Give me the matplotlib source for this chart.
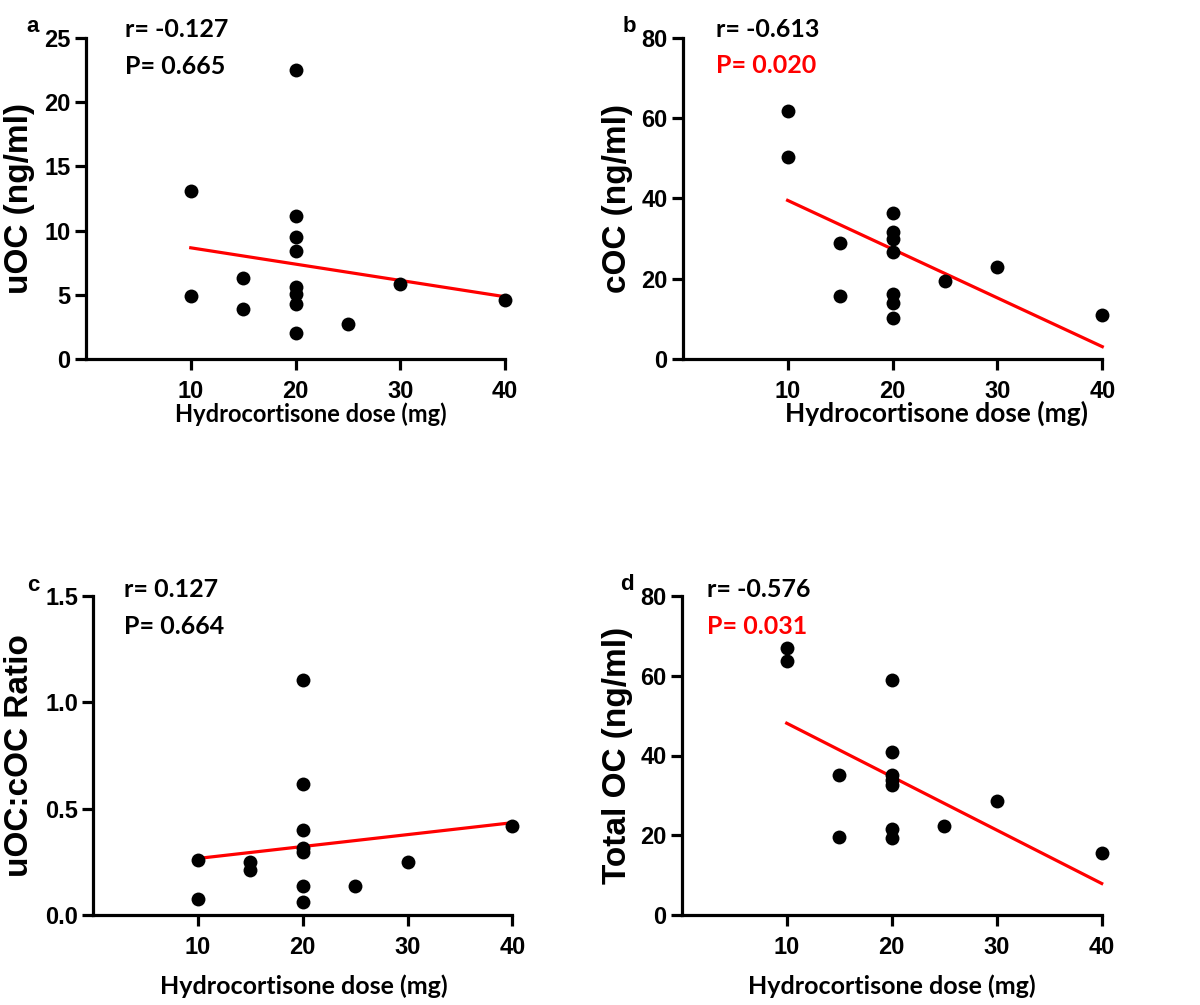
import numpy as np
import matplotlib
matplotlib.use("Agg")
import matplotlib.pyplot as plt

# Hydrocortisone dose (mg) and osteocalcin measures per patient
dose_uoc = [10, 10, 15, 15, 20, 20, 20, 20, 20, 20, 20, 20, 25, 30, 40]
uoc = [13.07, 4.93, 6.28, 3.92, 22.48, 11.1, 9.47, 8.43, 5.58, 5.08, 4.25, 2.0, 2.75, 5.81, 4.62]

dose_coc = [10, 10, 15, 15, 20, 20, 20, 20, 20, 20, 20, 25, 30, 40]
coc = [61.7, 50.4, 29.0, 15.8, 36.4, 31.6, 30.0, 26.6, 16.3, 13.9, 10.1, 19.5, 22.8, 10.95]

dose_ratio = [10, 10, 15, 15, 20, 20, 20, 20, 20, 20, 20, 25, 30, 40]
ratio = [0.259, 0.077, 0.248, 0.212, 1.103, 0.614, 0.398, 0.313, 0.295, 0.138, 0.06, 0.136, 0.251, 0.418]

dose_total = [10, 10, 15, 15, 20, 20, 20, 20, 20, 20, 20, 25, 30, 40]
total_oc = [66.9, 63.7, 35.1, 19.6, 58.9, 40.8, 35.1, 33.9, 32.6, 21.6, 19.4, 22.2, 28.6, 15.5]

# Fitted regression lines (value at dose 10 and dose 40)
fit_dose = [10, 40]
fit_uoc = [8.66, 4.85]
fit_coc = [39.5, 3.07]
fit_ratio = [0.266, 0.434]
fit_total = [48.1, 7.9]

x_ticks = [10, 20, 30, 40]
stats = [("r= -0.127", "P= 0.665", False),
         ("r= -0.613", "P= 0.020", True),
         ("r= 0.127", "P= 0.664", False),
         ("r= -0.576", "P= 0.031", True)]
letters = ["a", "b", "c", "d"]
ylabels = ["uOC (ng/ml)", "cOC (ng/ml)", "uOC:cOC Ratio", "Total OC (ng/ml)"]
xlabel = "Hydrocortisone dose (mg)"

W, H = 1200, 1005
fig = plt.figure(figsize=(W / 100, H / 100), dpi=100)


def px_axes(l, r, t, b):
    return fig.add_axes([l / W, 1 - b / H, (r - l) / W, (b - t) / H])


panels = [
    dict(rect=(86, 505, 38, 359), x=dose_uoc, y=uoc, fit=fit_uoc, ymax=25,
         yticks=[0, 5, 10, 15, 20, 25], yfmt="{:.0f}", ylab_x=-0.122,
         xlab=(0.537, -0.134, 17), stat_x=0.093, stat_y=(1.003, 0.889), letter=(33, 32)),
    dict(rect=(682.7, 1102.3, 37.7, 359), x=dose_coc, y=coc, fit=fit_coc, ymax=80,
         yticks=[0, 20, 40, 60, 80], yfmt="{:.0f}", ylab_x=-0.118,
         xlab=(0.604, -0.13, 19), stat_x=0.079, stat_y=(1.003, 0.889), letter=(629, 32)),
    dict(rect=(93.3, 512.3, 596, 915), x=dose_ratio, y=ratio, fit=fit_ratio, ymax=1.5,
         yticks=[0, 0.5, 1.0, 1.5], yfmt="{:.1f}", ylab_x=-0.139,
         xlab=(0.502, -0.185, 18), stat_x=0.074, stat_y=(0.997, 0.881), letter=(33, 591)),
    dict(rect=(681.7, 1101.7, 596, 915), x=dose_total, y=total_oc, fit=fit_total, ymax=80,
         yticks=[0, 20, 40, 60, 80], yfmt="{:.0f}", ylab_x=-0.116,
         xlab=(0.5, -0.185, 18), stat_x=0.06, stat_y=(0.997, 0.881), letter=(627, 590)),
]

tick_font = dict(family=["Liberation Sans Narrow", "Liberation Sans"], weight="bold", size=17)
stat_font = dict(family=["Lato", "DejaVu Sans"], weight="bold", size=18)

for i, p in enumerate(panels):
    ax = px_axes(*p["rect"])
    ax.scatter(p["x"], p["y"], s=100, color="black", zorder=3, clip_on=False, linewidths=0)
    ax.plot(fit_dose, p["fit"], color="#ff0000", lw=2.3, zorder=2, clip_on=False)
    ax.set_xlim(0, 40)
    ax.set_ylim(0, p["ymax"])
    ax.set_xticks(x_ticks)
    ax.set_yticks(p["yticks"])
    ax.set_xticklabels([str(t) for t in x_ticks], fontdict=tick_font)
    ax.set_yticklabels([p["yfmt"].format(t) for t in p["yticks"]], fontdict=tick_font)
    for s in ("top", "right"):
        ax.spines[s].set_visible(False)
    for s in ("left", "bottom"):
        ax.spines[s].set_linewidth(2.3)
    ax.tick_params(direction="out", length=8, width=2.3)
    ax.tick_params(axis="x", pad=7)
    ax.tick_params(axis="y", pad=3)
    ax.set_ylabel(ylabels[i], family=["Liberation Sans", "DejaVu Sans"], weight="bold", size=24)
    ax.yaxis.set_label_coords(p["ylab_x"], 0.5)
    lx_, ly_, lsize = p["xlab"]
    ax.set_xlabel(xlabel, family=["Lato", "DejaVu Sans"], weight="bold", size=lsize)
    ax.xaxis.set_label_coords(lx_, ly_)

    r_txt, p_txt, signif = stats[i]
    ax.text(p["stat_x"], p["stat_y"][0], r_txt, transform=ax.transAxes,
            ha="left", va="baseline", color="black", **stat_font)
    ax.text(p["stat_x"], p["stat_y"][1], p_txt, transform=ax.transAxes,
            ha="left", va="baseline", color="#ff0000" if signif else "black", **stat_font)

    lx, ly = p["letter"]
    fig.text(lx / W, 1 - ly / H, letters[i], ha="center", va="baseline",
             family=["Liberation Sans", "DejaVu Sans"], weight="bold", size=16)

fig.savefig("out.png", dpi=100, facecolor="white")
